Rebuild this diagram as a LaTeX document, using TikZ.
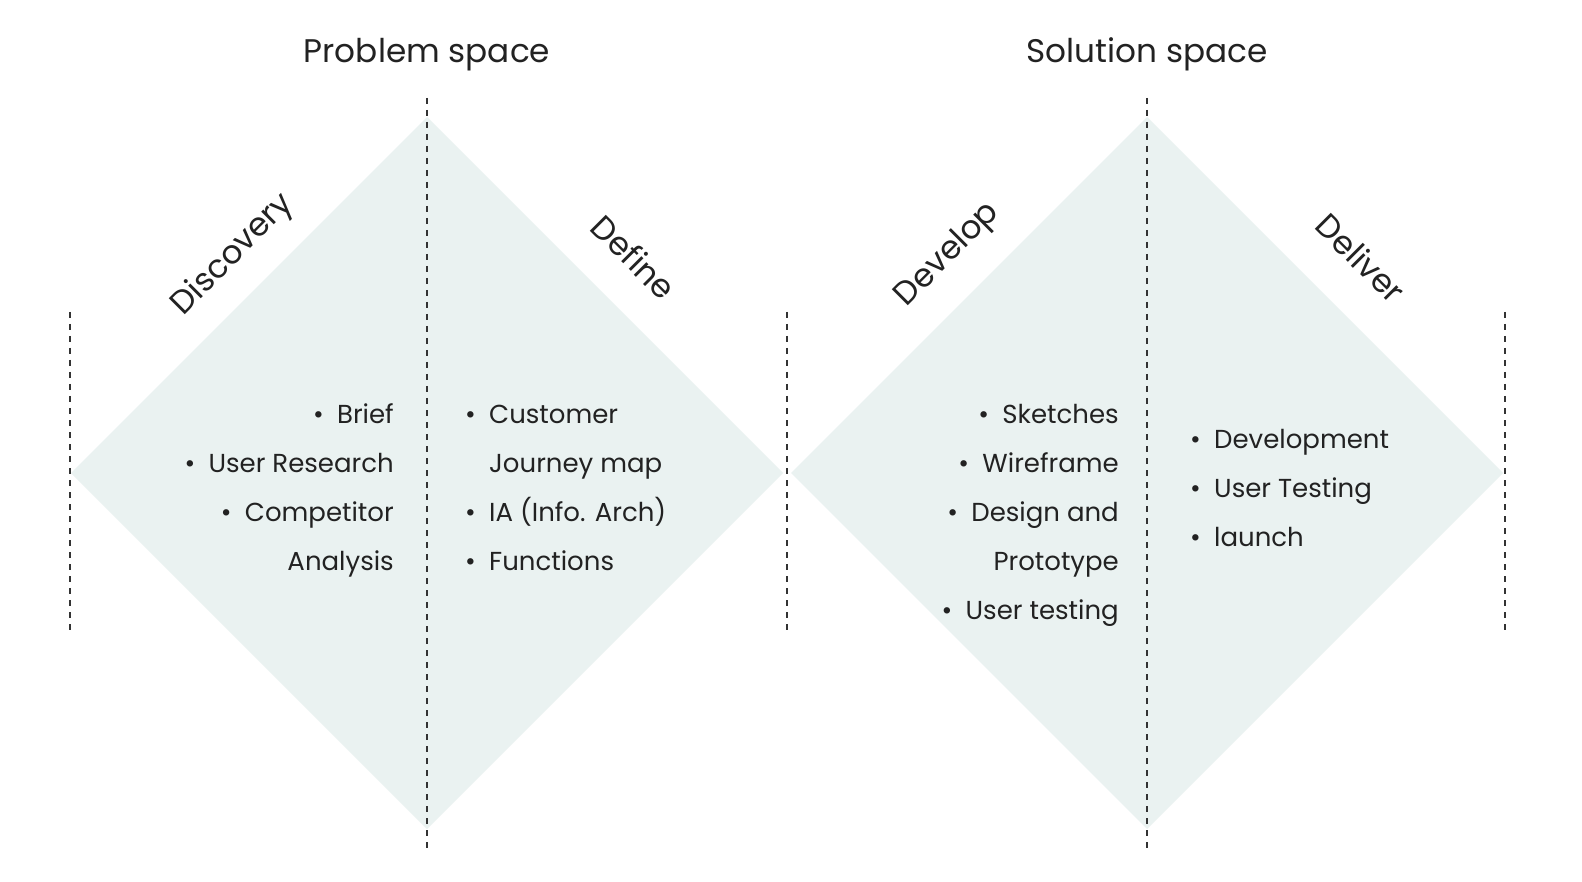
\documentclass[tikz,border=0pt]{standalone}
\usepackage{fontspec}
\setmainfont{Poppins}
\definecolor{ink}{HTML}{222222}
\definecolor{dfill}{HTML}{EAF2F1}
\definecolor{dashc}{HTML}{333333}
\newcommand{\bl}{\makebox[24pt][l]{•}}
\newcommand{\ind}{\hspace*{24pt}}
\begin{document}
\begin{tikzpicture}[x=1pt,y=-1pt,
  diamondfill/.style={fill=dfill,draw=none},
  divider/.style={draw=dashc,line width=1.5pt,dash pattern=on 6pt off 6pt},
  title/.style={font=\fontsize{32.7}{40}\selectfont,text=ink,anchor=base,inner sep=0pt},
  phase/.style={font=\fontsize{32.5}{40}\selectfont,text=ink,inner sep=0pt},
  items/.style={font=\fontsize{26}{49}\selectfont,text=ink,inner sep=0pt}
]
\useasboundingbox[fill=white] (0,0) rectangle (1582,882);

% diamonds
\fill[diamondfill] (71,473) -- (427,117) -- (783,473) -- (427,829) -- cycle;
\fill[diamondfill] (791,473) -- (1147,117) -- (1503,473) -- (1147,829) -- cycle;

% dividers
\coordinate (d1t) at (70,312);   \coordinate (d1b) at (70,635);
\coordinate (d2t) at (787,312);  \coordinate (d2b) at (787,635);
\coordinate (d3t) at (1505,312); \coordinate (d3b) at (1505,635);
\coordinate (c1t) at (427,98);   \coordinate (c1b) at (427,849);
\coordinate (c2t) at (1147,98);  \coordinate (c2b) at (1147,849);
\draw[divider] (d1t) -- (d1b);
\draw[divider] (d2t) -- (d2b);
\draw[divider] (d3t) -- (d3b);
\draw[divider] (c1t) -- (c1b);
\draw[divider] (c2t) -- (c2b);

% titles
\node[title] (pspace) at (427,63) {Problem space};
\node[title] (sspace) at (1147,63) {Solution space};

% phases
\node[phase,rotate=45] (disc) at (233,255) {Discovery};
\node[phase,rotate=-45] (defi) at (634,257) {Define};
\node[phase,rotate=45] (deve) at (948,255) {Develop};
\node[phase,rotate=-45] (deli) at (1361,258) {Deliver};

% lists (anchored at the baseline of their last line)
\node[items,align=right,anchor=base east] (l1) at (394,570)
  {\bl Brief\\\bl User Research\\\bl Competitor\\Analysis};
\node[items,align=left,anchor=base west] (l2) at (465,570)
  {\bl Customer\\\ind Journey map\\\bl IA (Info. Arch)\\\bl Functions};
\node[items,align=right,anchor=base east] (l3) at (1119,619)
  {\bl Sketches\\\bl Wireframe\\\bl Design and\\Prototype\\\bl User testing};
\node[items,align=left,anchor=base west] (l4) at (1190,546)
  {\bl Development\\\bl User Testing\\\bl launch};
\end{tikzpicture}
\end{document}
